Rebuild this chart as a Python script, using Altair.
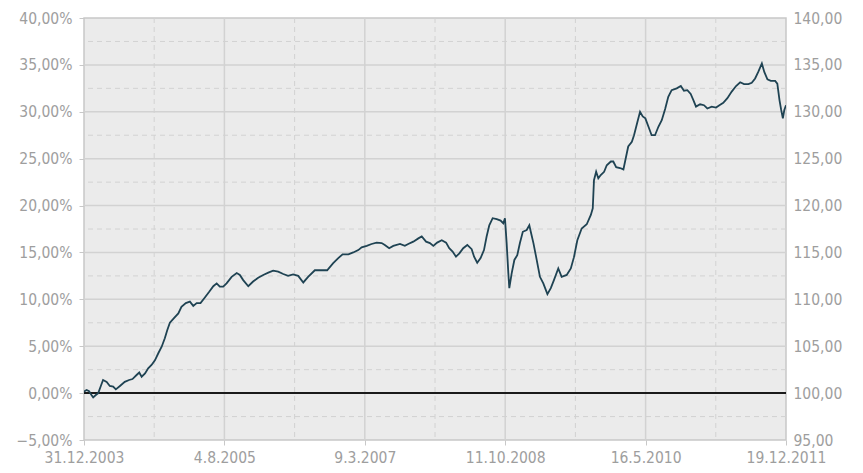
import altair as alt
import numpy as np
import pandas as pd

# ---- data ----
# time as fractional years, value as performance in %
years = [
    2003.997, 2004.028, 2004.057, 2004.084, 2004.103, 2004.133, 2004.159, 2004.187, 2004.216, 2004.255,
    2004.292, 2004.330, 2004.360, 2004.406, 2004.462, 2004.511, 2004.550, 2004.595, 2004.625, 2004.652,
    2004.690, 2004.727, 2004.766, 2004.803, 2004.841, 2004.879, 2004.917, 2004.943, 2004.973, 2005.019,
    2005.068, 2005.106, 2005.155, 2005.200, 2005.238, 2005.276, 2005.322, 2005.371, 2005.420, 2005.465,
    2005.504, 2005.541, 2005.578, 2005.617, 2005.674, 2005.731, 2005.768, 2005.806, 2005.862, 2005.919,
    2005.976, 2006.033, 2006.089, 2006.146, 2006.203, 2006.260, 2006.316, 2006.373, 2006.430, 2006.487,
    2006.543, 2006.620, 2006.696, 2006.759, 2006.827, 2006.884, 2006.934, 2006.998, 2007.054, 2007.111,
    2007.150, 2007.207, 2007.263, 2007.320, 2007.377, 2007.414, 2007.463, 2007.509, 2007.585, 2007.641,
    2007.679, 2007.736, 2007.792, 2007.831, 2007.880, 2007.925, 2007.963, 2008.008, 2008.058, 2008.107,
    2008.144, 2008.183, 2008.220, 2008.258, 2008.303, 2008.349, 2008.399, 2008.425, 2008.462, 2008.501,
    2008.538, 2008.569, 2008.598, 2008.637, 2008.682, 2008.728, 2008.757, 2008.777, 2008.796, 2008.814,
    2008.826, 2008.853, 2008.882, 2008.916, 2008.947, 2008.978, 2009.023, 2009.053, 2009.072, 2009.098,
    2009.129, 2009.174, 2009.212, 2009.257, 2009.296, 2009.333, 2009.382, 2009.420, 2009.477, 2009.523,
    2009.560, 2009.597, 2009.647, 2009.704, 2009.750, 2009.772, 2009.787, 2009.810, 2009.836, 2009.863,
    2009.901, 2009.931, 2009.977, 2010.006, 2010.037, 2010.082, 2010.120, 2010.150, 2010.176, 2010.215,
    2010.241, 2010.279, 2010.309, 2010.340, 2010.369, 2010.404, 2010.442, 2010.480, 2010.517, 2010.556,
    2010.593, 2010.631, 2010.669, 2010.726, 2010.771, 2010.809, 2010.846, 2010.885, 2010.914, 2010.945,
    2010.990, 2011.036, 2011.073, 2011.123, 2011.172, 2011.210, 2011.255, 2011.300, 2011.350, 2011.399,
    2011.445, 2011.490, 2011.539, 2011.577, 2011.615, 2011.652, 2011.691, 2011.720, 2011.754, 2011.793,
    2011.842, 2011.868, 2011.891, 2011.910, 2011.929, 2011.947, 2011.966,
]
perf = [
    0.15, 0.33, 0.20, -0.20, -0.45, -0.20, 0.00, 0.70, 1.40, 1.20,
    0.76, 0.70, 0.40, 0.76, 1.20, 1.40, 1.50, 1.93, 2.20, 1.75,
    2.10, 2.65, 3.00, 3.50, 4.25, 4.95, 5.85, 6.70, 7.50, 8.00,
    8.50, 9.20, 9.60, 9.75, 9.30, 9.60, 9.60, 10.20, 10.80, 11.40,
    11.70, 11.35, 11.35, 11.70, 12.40, 12.80, 12.60, 12.05, 11.40, 11.90,
    12.30, 12.60, 12.85, 13.05, 12.95, 12.70, 12.50, 12.65, 12.50, 11.80,
    12.40, 13.10, 13.10, 13.10, 13.85, 14.40, 14.80, 14.80, 15.00, 15.25,
    15.55, 15.70, 15.90, 16.05, 16.00, 15.80, 15.45, 15.70, 15.90, 15.70,
    15.90, 16.15, 16.50, 16.70, 16.15, 16.00, 15.70, 16.05, 16.30, 16.05,
    15.45, 15.10, 14.55, 14.90, 15.45, 15.80, 15.35, 14.55, 13.90, 14.40,
    15.25, 16.70, 17.90, 18.65, 18.55, 18.40, 18.10, 18.65, 16.00, 12.80,
    11.20, 12.80, 14.20, 14.70, 16.00, 17.20, 17.40, 17.90, 17.10, 16.00,
    14.55, 12.40, 11.70, 10.55, 11.20, 12.05, 13.30, 12.40, 12.60, 13.30,
    14.50, 16.30, 17.55, 18.00, 19.00, 19.70, 22.70, 23.60, 22.90, 23.25,
    23.60, 24.30, 24.70, 24.70, 24.10, 24.00, 23.85, 25.20, 26.30, 26.80,
    27.50, 28.90, 30.00, 29.50, 29.30, 28.40, 27.50, 27.50, 28.40, 29.10,
    30.30, 31.60, 32.30, 32.50, 32.75, 32.25, 32.30, 31.90, 31.25, 30.55,
    30.80, 30.70, 30.35, 30.55, 30.45, 30.70, 30.95, 31.45, 32.15, 32.75,
    33.15, 32.95, 32.95, 33.10, 33.55, 34.25, 35.15, 34.25, 33.45, 33.30,
    33.30, 33.00, 31.25, 30.20, 29.30, 30.20, 30.70,
]
tick_dates = ["2003-12-31", "2005-08-04", "2007-03-09", "2008-10-11", "2010-05-16", "2011-12-19"]
left_ticks = [-5, 0, 5, 10, 15, 20, 25, 30, 35, 40]
right_ticks = [95, 100, 105, 110, 115, 120, 125, 130, 135, 140]

# ---- tables ----
base = pd.Timestamp("2004-01-01")
dts = base + pd.to_timedelta((np.array(years) - 2004.0) * 365.25, unit="D")
line_df = pd.DataFrame({"date": dts.strftime("%Y-%m-%d"), "perf": perf})

td = pd.to_datetime(tick_dates)
mid = td[:-1] + (td[1:] - td[:-1]) / 2
vsolid_df = pd.DataFrame({"date": tick_dates[1:-1]})
vdash_df = pd.DataFrame({"date": mid.strftime("%Y-%m-%d")})
hsolid_df = pd.DataFrame({"perf": [t for t in left_ticks if t not in (0, -5, 40)]})
hdash_df = pd.DataFrame({"perf": [t + 2.5 for t in left_ticks[:-1]]})
zero_df = pd.DataFrame({"perf": [0]})
right_df = pd.DataFrame({"r": [right_ticks[0], right_ticks[-1]]})


def dt(s):
    y, m, d = (int(p) for p in s.split("-"))
    return alt.DateTime(year=y, month=m, date=d, utc=True)


FONT = "DejaVu Sans Condensed, DejaVu Sans"
FS = 15.5
LABEL = "#9e9e9e"
GRID = "#d2d2d2"

xscale = alt.Scale(type="utc", domain=[dt(tick_dates[0]), dt(tick_dates[-1])])
yscale = alt.Scale(domain=[left_ticks[0], left_ticks[-1]], nice=False, zero=False)

x_axis = alt.Axis(
    values=[dt(s) for s in tick_dates], format="%-d.%-m.%Y", grid=False, domain=False,
    tickColor="#c8c8c8", tickSize=5, labelPadding=5, labelFont=FONT, labelFontSize=FS,
    labelColor=LABEL, labelFlush=False, labelOverlap=False, title=None,
)
y_axis = alt.Axis(
    values=left_ticks, labelExpr="replace(format(datum.value, '.2f'), '.', ',') + '%'",
    grid=False, domain=False, tickColor="#c8c8c8", tickSize=5, labelPadding=7,
    labelFont=FONT, labelFontSize=FS, labelColor=LABEL, labelOverlap=False, title=None,
)
r_axis = alt.Axis(
    orient="right", values=right_ticks,
    labelExpr="replace(format(datum.value, '.2f'), '.', ',')",
    grid=False, domain=False, ticks=False, labelPadding=7,
    labelFont=FONT, labelFontSize=FS, labelColor=LABEL, labelOverlap=False, title=None,
)

X = alt.X("date:T", scale=xscale, axis=x_axis)
Y = alt.Y("perf:Q", scale=yscale, axis=y_axis)

line = alt.Chart(line_df).mark_line(color="#1f4353", strokeWidth=1.8, clip=True).encode(x=X, y=Y)
hdash = alt.Chart(hdash_df).mark_rule(color=GRID, strokeDash=[5, 4], strokeWidth=1).encode(y=Y)
hsolid = alt.Chart(hsolid_df).mark_rule(color=GRID, strokeWidth=1.5).encode(y=Y)
vdash = alt.Chart(vdash_df).mark_rule(color=GRID, strokeDash=[5, 4], strokeWidth=1).encode(x=X)
vsolid = alt.Chart(vsolid_df).mark_rule(color=GRID, strokeWidth=1.5).encode(x=X)
zero = alt.Chart(zero_df).mark_rule(color="#1a1a1a", strokeWidth=2).encode(y=Y)
left = alt.layer(hdash, hsolid, vdash, vsolid, zero, line)

right = alt.Chart(right_df).mark_rule(opacity=0).encode(
    y=alt.Y("r:Q", scale=alt.Scale(domain=[right_ticks[0], right_ticks[-1]], nice=False, zero=False),
            axis=r_axis))

chart = alt.layer(left, right).resolve_scale(y="independent").properties(
    width=702, height=422, autosize=alt.AutoSizeParams(type="none"),
    padding={"left": 76, "top": 10, "right": 69, "bottom": 25},
    background="white",
).configure_view(fill="#ebebeb", stroke="#c8c8c8", strokeWidth=1.5)

chart.save("out.html", embed_options={"renderer": "svg", "actions": False})
